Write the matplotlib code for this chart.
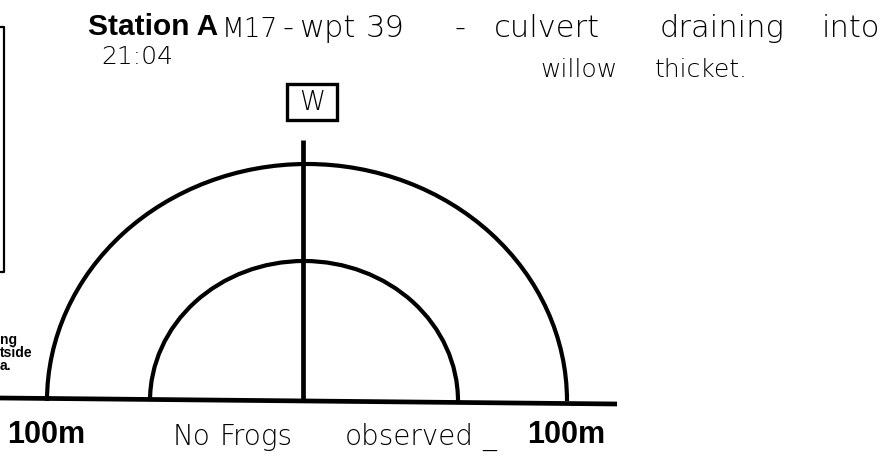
import matplotlib
matplotlib.use("Agg")
import matplotlib.pyplot as plt
from matplotlib.patches import Arc

# ---- content ----
station_label = "Station A"
title_hand = ["M17", "-", "wpt", "39", "-", "culvert", "draining", "into"]
title_hand_x = [222, 282, 299, 366, 455, 494, 660, 822]
time_text = "21:04"
note_line2 = ["willow", "thicket."]
note_line2_x = [540, 655]
direction_label = "W"
distance_labels = ["100m", "100m"]
distance_x = [7, 527]
observation = ["No", "Frogs", "observed", "_"]
observation_x = [173, 220, 345, 482]
side_fragments = ["ng", "tside", "a."]

# ring geometry (pixel units of the scanned sheet)
ring_centers_x = [304, 307]
ring_rx = [154, 260]
ring_ry = [140, 237]
base_y = 401

W, H = 885, 454
fig = plt.figure(figsize=(W / 100, H / 100), dpi=100)
ax = fig.add_axes([0, 0, 1, 1])
ax.set_xlim(0, W)
ax.set_ylim(H, 0)
ax.axis("off")

HAND = dict(family="DejaVu Sans", fontweight="light", color="black")
PRINT = dict(family="Liberation Sans", fontweight="bold", color="black")

# semicircles
for cx, rx, ry in zip(ring_centers_x, ring_rx, ring_ry):
    ax.add_patch(Arc((cx, base_y), 2 * rx, 2 * ry, theta1=180, theta2=360,
                     lw=3.0, color="black"))
# baseline (slightly skewed as on the scan)
ax.plot([0, 617], [398, 404], color="black", lw=3.4, solid_capstyle="butt")
# center line
ax.plot([303, 303], [140, base_y + 1], color="black", lw=3.4, solid_capstyle="butt")
# W box
ax.add_patch(plt.Rectangle((287, 84), 50, 36, fill=False, lw=2.4, ec="black"))
ax.text(312, 103, direction_label, ha="center", va="center", fontsize=19, **HAND)

# left partial box
ax.plot([0, 4, 4, 0], [27, 27, 272, 272], color="black", lw=1.6)

# title
ax.text(88, 35, station_label, fontsize=21.5, ha="left", va="baseline", **PRINT)
for s, x in zip(title_hand, title_hand_x):
    ax.text(x, 37, s, fontsize=19 if s == "M17" else 22, ha="left",
            va="baseline", **HAND)
ax.text(101, 64, time_text, fontsize=18, ha="left", va="baseline", **HAND)
for s, x in zip(note_line2, note_line2_x):
    ax.text(x, 77, s, fontsize=18, ha="left", va="baseline", **HAND)

# distance labels and observation note
for s, x in zip(distance_labels, distance_x):
    ax.text(x, 443, s, fontsize=22, ha="left", va="baseline", **PRINT)
for s, x in zip(observation, observation_x):
    ax.text(x, 445, s, fontsize=20, ha="left", va="baseline", **HAND)

# side note fragments (cut by the scan)
for i, s in enumerate(side_fragments):
    ax.text(0, 344 + 13 * i, s, fontsize=10, ha="left", va="baseline", **PRINT)

fig.savefig("out.png", dpi=100)
